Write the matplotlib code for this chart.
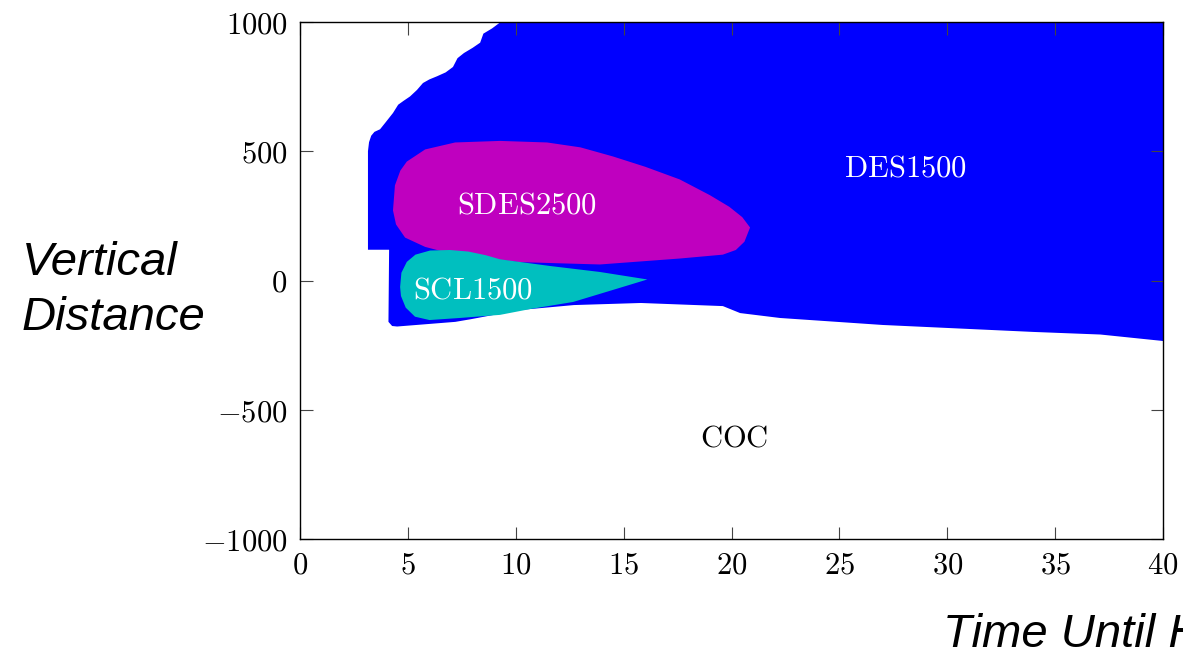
import numpy as np
import matplotlib
matplotlib.use("Agg")
import matplotlib.pyplot as plt

# Region boundaries (time until hit, vertical distance)
des_x = [3.15, 3.15, 3.2, 3.3, 3.45, 3.71, 3.95, 4.31, 4.55, 4.8, 5.1, 5.42,
         5.70, 6.0, 6.35, 6.75, 7.09, 7.3, 7.6, 8.0, 8.35, 8.5, 8.9, 9.3,
         40.0, 40.0, 37.1, 34.0, 27.0, 22.25, 20.4, 19.6, 15.8, 12.7, 10.2,
         7.9, 7.2, 4.5, 4.27, 4.1, 4.13]
des_y = [119, 500, 535, 560, 575, 585, 610, 648, 680, 695, 712, 737,
         764, 778, 790, 805, 826, 860, 880, 900, 920, 955, 975, 1000,
         1000, -234, -209, -199, -172, -145, -126, -99, -87, -95, -114,
         -150, -160, -178, -176, -160, 119]

sdes_x = [4.31, 4.40, 4.65, 4.95, 5.8, 7.19, 9.27, 11.45, 13.0, 14.5, 16.0,
          17.6, 19.0, 19.9, 20.5, 20.86, 20.6, 20.2, 19.6, 17.6, 13.9, 10.2,
          7.4, 5.8, 4.87, 4.45]
sdes_y = [271, 368, 425, 460, 507, 534, 540, 534, 515, 480, 440,
          391, 330, 285, 245, 205, 150, 118, 100, 85, 62, 71,
          95, 130, 166, 217]

scl_x = [4.64, 4.7, 4.95, 5.35, 6.03, 6.95, 7.8, 8.6, 9.27, 11.6, 13.9,
         16.1, 14.8, 12.66, 10.7, 9.27, 7.4, 6.0, 5.33, 4.9, 4.68]
scl_y = [-25, 30, 72, 100, 116, 118, 112, 98, 82, 56, 33,
         4, -29, -83, -110, -133, -145, -153, -140, -105, -60]

region_names = ["DES1500", "SDES2500", "SCL1500", "COC"]
label_x = [28.05, 10.5, 8.0, 20.1]
label_y = [437, 293, -37, -609]

x_ticks = [0, 5, 10, 15, 20, 25, 30, 35, 40]
y_ticks = [-1000, -500, 0, 500, 1000]

plt.rcParams['mathtext.fontset'] = 'cm'

fig = plt.figure(figsize=(11.83, 6.62), dpi=100)
ax = fig.add_axes([300 / 1183, 1 - 539 / 662, 863 / 1183, 517 / 662])

ax.fill(des_x, des_y, color='b', lw=0, zorder=1)
ax.fill(sdes_x, sdes_y, color='m', lw=0, zorder=2)
ax.fill(scl_x, scl_y, color='c', lw=0, zorder=3)

label_colors = ['white', 'white', 'white', 'black']
for name, lx, ly, col in zip(region_names, label_x, label_y, label_colors):
    ax.text(lx, ly, r'$\mathrm{%s}$' % name, color=col, fontsize=22,
            ha='center', va='center', zorder=4)

ax.set_xlim(0, 40)
ax.set_ylim(-1000, 1000)
ax.set_xticks(x_ticks, labels=[r'$%d$' % t for t in x_ticks])
ax.set_yticks(y_ticks, labels=[r'$%d$' % t for t in y_ticks])
ax.tick_params(direction='in', top=True, right=True, length=9, width=0.8,
               labelsize=22, color='#444444')
ax.tick_params(axis='y', pad=9)
ax.tick_params(axis='x', pad=8)
for sp in ax.spines.values():
    sp.set_linewidth(1.0)
    sp.set_zorder(5)

fig.text(22 / 1183, 1 - 241 / 662, 'Vertical\nDistance', fontsize=34,
         family='Liberation Sans', style='italic', ha='left', va='top',
         linespacing=1.32)
fig.text(943 / 1183, 1 - 647 / 662, 'Time Until Hit', fontsize=34,
         family='Liberation Sans', style='italic', ha='left', va='baseline')

fig.savefig('out.png', dpi=100)
